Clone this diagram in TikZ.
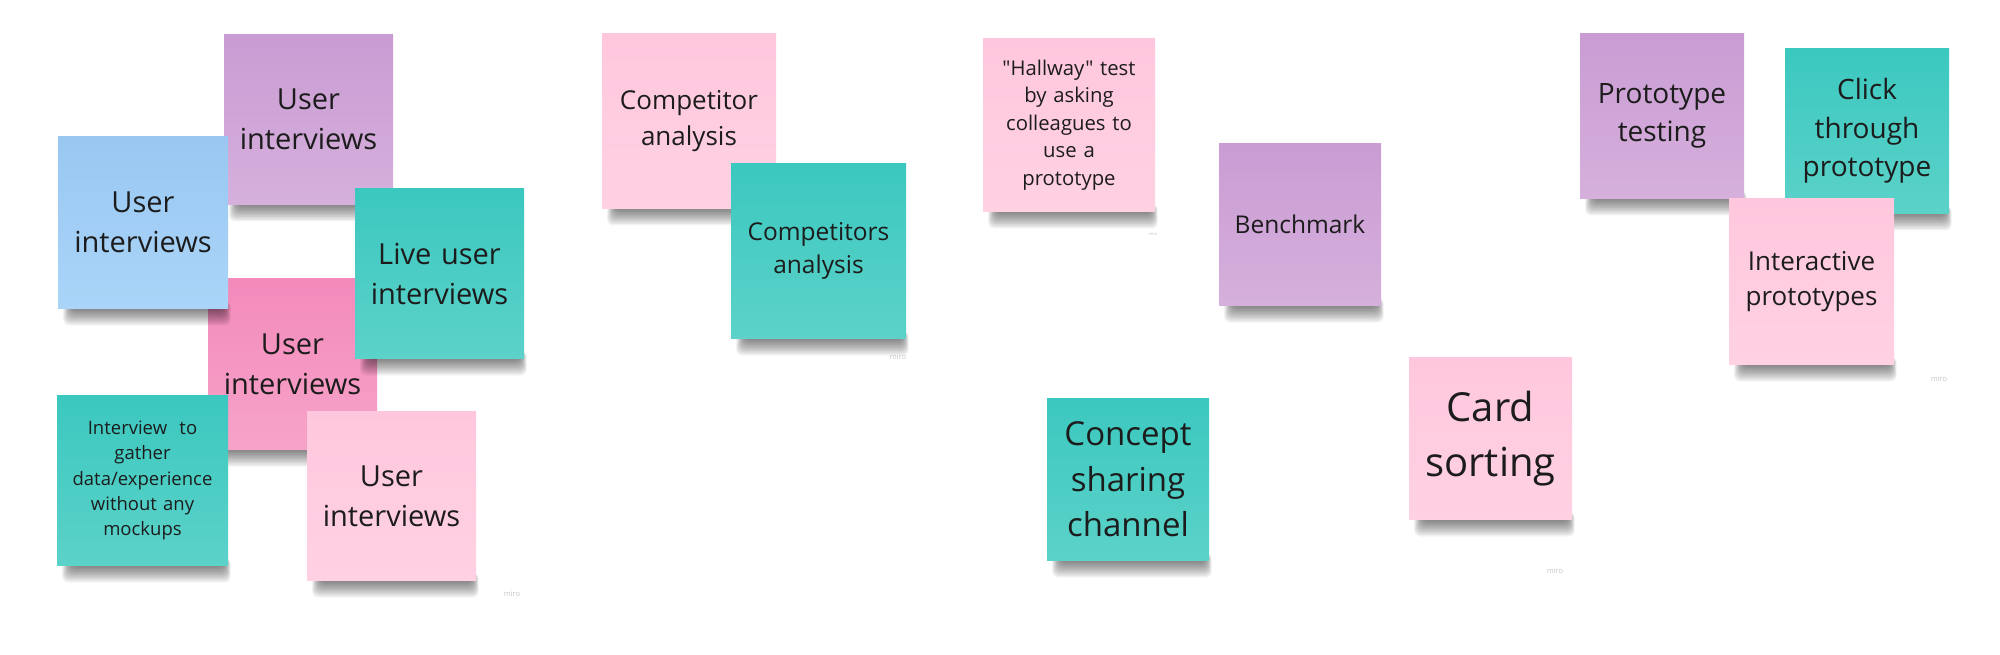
\documentclass[tikz,border=0pt]{standalone}
\usepackage{fontspec}
\setmainfont{Open Sans}[Ligatures=TeXOff]
\definecolor{tealT}{HTML}{3BC8BF}
\definecolor{tealB}{HTML}{5CD2C9}
\definecolor{purT}{HTML}{C99CD3}
\definecolor{purB}{HTML}{D6B0DC}
\definecolor{bluT}{HTML}{99C7F1}
\definecolor{bluB}{HTML}{AAD5F9}
\definecolor{hpkT}{HTML}{F38ABB}
\definecolor{hpkB}{HTML}{F7A3C9}
\definecolor{lpkT}{HTML}{FFC7DD}
\definecolor{lpkB}{HTML}{FFD1E3}
\definecolor{inktext}{HTML}{1C1C1C}
\definecolor{mirogray}{HTML}{C6C6CE}
\tikzset{
  note/.style={rectangle, inner sep=0pt, outer sep=0pt, align=center, text=inktext},
  tealnote/.style={top color=tealT, bottom color=tealB},
  purnote/.style={top color=purT, bottom color=purB},
  blunote/.style={top color=bluT, bottom color=bluB},
  hpknote/.style={top color=hpkT, bottom color=hpkB},
  lpknote/.style={top color=lpkT, bottom color=lpkB},
  shadowlayer/.style={fill=black, opacity=0.05, rounded corners=6pt},
  mirotag/.style={text=mirogray, font=\fontsize{7.5}{9}\selectfont, inner sep=0pt},
}
% #1 name, #2 left, #3 top, #4 right, #5 bottom, #6 style, #7 size, #8 leading, #9 text
\newcommand{\stickynote}[9]{%
  \foreach \k in {0,...,11} {
    \fill[shadowlayer] (#2+14-0.8*\k, #5-6) rectangle (#4-4+0.6*\k, #5+2+1.5*\k);
  }
  \node[note, #6, minimum width={(#4-#2)*1pt}, minimum height={(#5-#3)*1pt},
        text width={(#4-#2-4)*1pt}, font=\fontsize{#7}{#8}\selectfont]
        (#1) at ({(#2+#4)/2},{(#3+#5)/2+1.5}) {#9};
}
\begin{document}
\begin{tikzpicture}[x=1pt,y=-1pt]
\fill[white] (0,0) rectangle (2000,655);
\useasboundingbox (0,0) rectangle (2000,655);

% left cluster
\stickynote{uiPink}{208}{277}{377}{448}{hpknote}{29}{40}{User\\interviews}
\stickynote{uiPurple}{224}{33}{393}{203}{purnote}{29}{40}{User\\interviews}
\stickynote{uiBlue}{58}{135}{228}{307}{blunote}{29}{40}{User\\interviews}
\stickynote{live}{355}{187}{524}{357}{tealnote}{29}{40}{Live user\\interviews}
\stickynote{gather}{57}{394}{228}{564}{tealnote}{18.5}{25.3}{Interview\ \ to\\gather\\data/experience\\without any\\mockups}
\stickynote{uiLight}{307}{410}{476}{579}{lpknote}{29}{40}{User\\interviews}
\node[mirotag] (miro1) at (512,594) {miro};

% competitor cluster
\stickynote{comp}{602}{32}{776}{207}{lpknote}{26}{36}{Competitor\\analysis}
\stickynote{comps}{731}{162}{906}{337}{tealnote}{24.5}{33}{Competitors\\analysis}
\node[mirotag] (miro2) at (898,357) {miro};

% middle
\stickynote{hallway}{983}{37}{1155}{210}{lpknote}{20.3}{27.6}{"Hallway" test\\by asking\\colleagues to\\use a\\prototype}
\node[mirotag, font=\fontsize{4}{5}\selectfont] (miro3) at (1153,234) {miro};
\stickynote{bench}{1219}{142}{1381}{304}{purnote}{24.5}{33}{Benchmark}
\stickynote{concept}{1047}{397}{1209}{559}{tealnote}{33}{45.5}{Concept\\sharing\\channel}
\stickynote{card}{1409}{356}{1572}{518}{lpknote}{40}{54.4}{Card\\sorting}
\node[mirotag] (miro4) at (1555,571) {miro};

% prototype cluster
\stickynote{protest}{1580}{32}{1744}{197}{purnote}{28}{38}{Prototype\\testing}
\stickynote{click}{1785}{47}{1949}{212}{tealnote}{28}{38.3}{Click\\through\\prototype}
\stickynote{interact}{1729}{197}{1894}{363}{lpknote}{26}{35.7}{Interactive\\prototypes}
\node[mirotag] (miro5) at (1939,379) {miro};
\end{tikzpicture}
\end{document}
